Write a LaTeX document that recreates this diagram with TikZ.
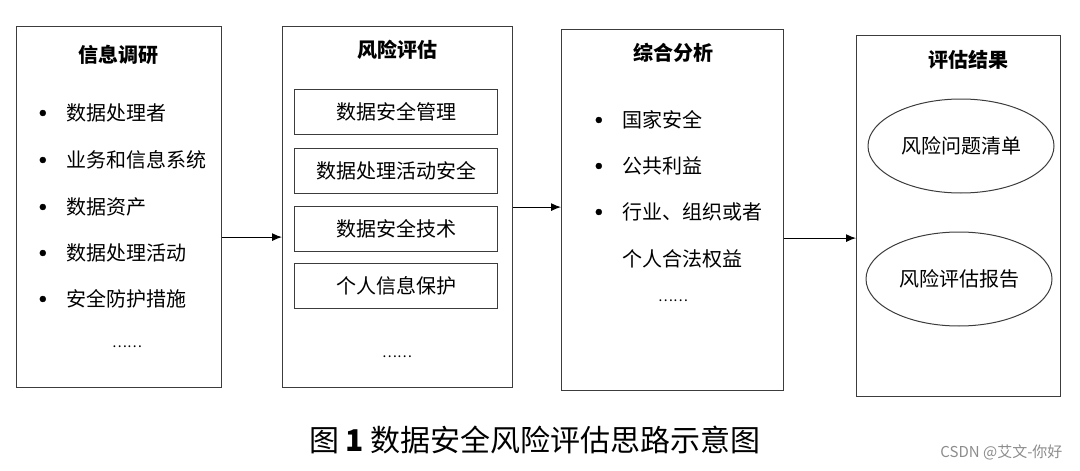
\documentclass[tikz,border=0pt]{standalone}
\usepackage{fontspec}
\setmainfont{Noto Sans CJK SC}
\usetikzlibrary{shapes.geometric,arrows.meta,positioning}
\definecolor{lineColor}{RGB}{60, 60, 60}
\tikzstyle{panel} = [rectangle, anchor=north west, minimum height=361pt, inner sep=0pt, draw=lineColor, line width=1.2pt]
\tikzstyle{heading} = [font=\fontsize{20}{24}\selectfont\bfseries]
\tikzstyle{plain} = [anchor=west, inner sep=0pt, font=\fontsize{20}{24}\selectfont]
\tikzstyle{item} = [plain, label={[circle, fill=black, draw=black, inner sep=0pt, minimum size=6pt, label distance=20pt]left:{}}]
\tikzstyle{subbox} = [rectangle, minimum width=203pt, minimum height=45pt, text centered, draw=lineColor, line width=1pt, font=\fontsize{20}{24}\selectfont]
\tikzstyle{outcome} = [ellipse, minimum width=186pt, minimum height=94pt, draw=lineColor, line width=1pt, font=\fontsize{20}{24}\selectfont]
\tikzstyle{more} = [font=\fontsize{14}{16}\selectfont]
\tikzstyle{arrow} = [-{Latex[length=10pt, width=8pt]}, line width=1pt]

\begin{document}
\begin{tikzpicture}[x=1pt, y=-1pt]
				\useasboundingbox (0,0) rectangle (1080,471);
				% panels
				\node (info) [panel, minimum width=205pt] at (16,26) {};
				\node (risk) [panel, minimum width=230pt] at (282,26) {};
				\node (synth) [panel, minimum width=222pt] at (561,29) {};
				\node (result) [panel, minimum width=204pt] at (856,35) {};
				
				% information survey
				\node (infotitle) [heading] at (118,55) {信息调研};
				\node (i1) [item] at (66,113) {数据处理者};
				\node (i2) [item] at (66,160) {业务和信息系统};
				\node (i3) [item] at (66,207) {数据资产};
				\node (i4) [item] at (66,253) {数据处理活动};
				\node (i5) [item] at (66,299) {安全防护措施};
				\node (imore) [more] at (127,347) {……};
				
				% risk assessment
				\node (risktitle) [heading] at (397,50) {风险评估};
				\node (r1) [subbox] at (396,112) {数据安全管理};
				\node (r2) [subbox, below=13pt of r1] {数据处理活动安全};
				\node (r3) [subbox, below=12pt of r2] {数据安全技术};
				\node (r4) [subbox, below=11pt of r3] {个人信息保护};
				\node (rmore) [more] at (397,357) {……};
				
				% comprehensive analysis
				\node (synthtitle) [heading] at (673,53) {综合分析};
				\node (s1) [item] at (622,120) {国家安全};
				\node (s2) [item] at (622,166) {公共利益};
				\node (s3) [item] at (622,212) {行业、组织或者};
				\node (s4) [plain] at (622,259) {个人合法权益};
				\node (smore) [more] at (673,301) {……};
				
				% results
				\node (resulttitle) [heading] at (968,60) {评估结果};
				\node (o1) [outcome] at (961,146) {风险问题清单};
				\node (o2) [outcome] at (959,279) {风险评估报告};
				
				\draw[arrow] ([yshift=-30pt]info.east) -- ([yshift=-30pt]info.east -| risk.west);
				\draw[arrow] (risk.east) -- (risk.east -| synth.west);
				\draw[arrow] ([yshift=-28pt]synth.east) -- ([yshift=-28pt]synth.east -| result.west);
				
				\node (caption) at (535,440) {\fontsize{30}{32}\selectfont 图\hspace{6pt}\textbf{1}\hspace{6pt}数据安全风险评估思路示意图};
				\node (mark) [anchor=east, text=black!45, font=\fontsize{15}{18}\selectfont] at (1066,452) {CSDN @艾文-你好};
\end{tikzpicture}
\end{document}
